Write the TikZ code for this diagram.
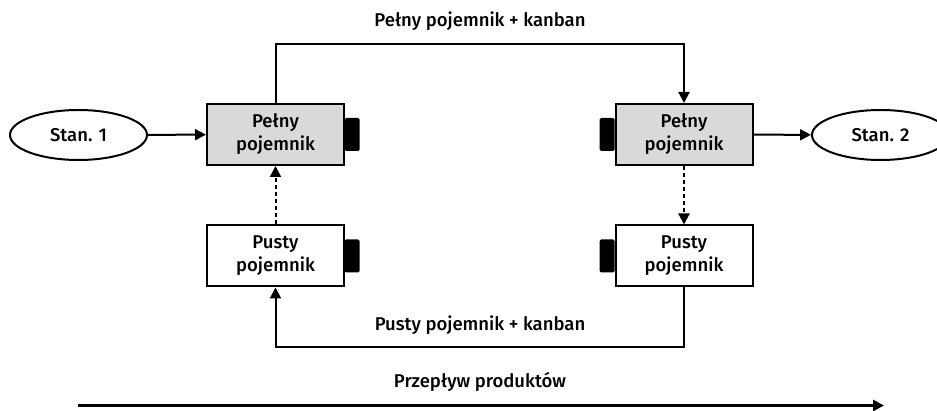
\documentclass[tikz,border=0pt]{standalone}
\usepackage{fontspec}
\setmainfont{Fira Sans}[BoldFont={Fira Sans Medium}]
\usetikzlibrary{arrows.meta,shapes.geometric}
\begin{document}
\begin{tikzpicture}[x=1pt,y=-1pt,
  font=\fontsize{18.5}{23}\selectfont\bfseries,
  line width=2pt,
  box/.style={draw, rectangle, minimum width=137pt, minimum height=61pt, inner sep=0pt, align=center},
  fullbox/.style={box, fill=gray!30},
  emptybox/.style={box, fill=white},
  tab/.style={fill=black, rounded corners=1.5pt, minimum width=15pt, minimum height=33pt, inner sep=0pt},
  stan/.style={draw, ellipse, minimum width=137pt, minimum height=50pt, inner sep=0pt, fill=white},
  arr/.style={-{Triangle[length=11pt,width=11pt]}},
  dots/.style={arr, dash pattern=on 4pt off 3pt}]
\clip (0,0) rectangle (937,411);
\useasboundingbox (0,0) rectangle (937,411);
% kanban tabs
\node[tab] (tabA) at (352,134.5) {};
\node[tab] (tabB) at (607,134.5) {};
\node[tab] (tabC) at (352,256) {};
\node[tab] (tabD) at (607,256) {};
% boxes
\node[fullbox] (fullL) at (275.5,134.5) {Pełny\\pojemnik};
\node[fullbox] (fullR) at (684,134.5) {Pełny\\pojemnik};
\node[emptybox] (emptyL) at (275.5,256) {Pusty\\pojemnik};
\node[emptybox] (emptyR) at (684,256) {Pusty\\pojemnik};
% stations
\node[stan] (st1) at (78.5,135) {Stan. 1};
\node[stan] (st2) at (880.5,135) {Stan. 2};
% connectors
\coordinate (tl) at (275.5,44);
\coordinate (tr) at (684,44);
\coordinate (bl) at (275.5,347);
\coordinate (br) at (684,347);
\draw[arr] (st1) -- (fullL);
\draw[arr] (fullR) -- (st2);
\draw[arr] (fullL.north) -- (tl) -- (tr) -- (fullR.north);
\draw[arr] (emptyR.south) -- (br) -- (bl) -- (emptyL.south);
\draw[dots] (emptyL.north) -- (fullL.south);
\draw[dots] (fullR.south) -- (emptyR.north);
% labels
\node (lt) at (480,21) {Pełny pojemnik + kanban};
\node (lb) at (480,325) {Pusty pojemnik + kanban};
\node (lp) at (480,382) {Przepływ produktów};
\coordinate (pa) at (78,405.5);
\coordinate (pb) at (884,405.5);
\draw[arr, line width=3pt] (pa) -- (pb);
\end{tikzpicture}
\end{document}
